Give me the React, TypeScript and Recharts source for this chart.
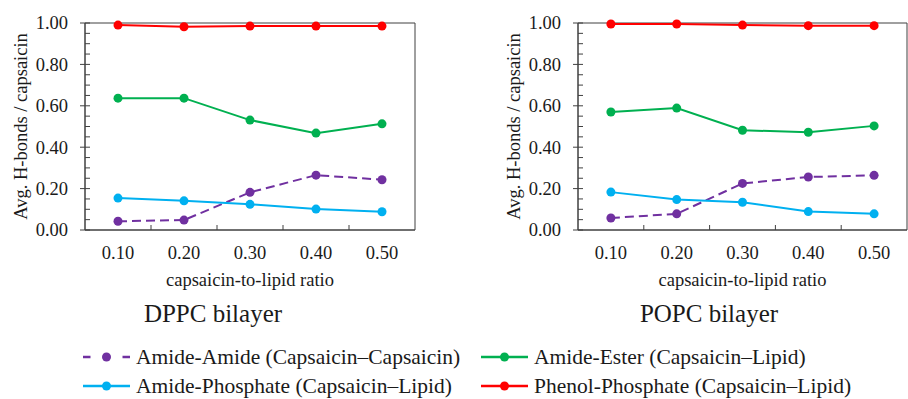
import React from 'react';
import { LineChart, Line, XAxis, YAxis, ReferenceArea } from 'recharts';

const RATIOS = [0.1, 0.2, 0.3, 0.4, 0.5];

const DPPC_AMIDE_AMIDE = [0.042, 0.048, 0.182, 0.265, 0.243];
const DPPC_AMIDE_ESTER = [0.637, 0.637, 0.531, 0.468, 0.513];
const DPPC_AMIDE_PHOSPHATE = [0.154, 0.141, 0.124, 0.101, 0.088];
const DPPC_PHENOL_PHOSPHATE = [0.99, 0.982, 0.985, 0.985, 0.985];

const POPC_AMIDE_AMIDE = [0.058, 0.078, 0.225, 0.256, 0.264];
const POPC_AMIDE_ESTER = [0.57, 0.589, 0.482, 0.472, 0.503];
const POPC_AMIDE_PHOSPHATE = [0.183, 0.147, 0.134, 0.089, 0.078];
const POPC_PHENOL_PHOSPHATE = [0.995, 0.995, 0.99, 0.987, 0.987];

const X_TICKS = [0.1, 0.15, 0.2, 0.25, 0.3, 0.35, 0.4, 0.45, 0.5];
const Y_TICKS = [0, 0.05, 0.1, 0.15, 0.2, 0.25, 0.3, 0.35, 0.4, 0.45, 0.5, 0.55, 0.6, 0.65, 0.7, 0.75, 0.8, 0.85, 0.9, 0.95, 1];

const SERIES = [
    { key: 'amideAmide', name: 'Amide-Amide (Capsaicin–Capsaicin)', color: '#7030A0', dashed: true },
    { key: 'amideEster', name: 'Amide-Ester (Capsaicin–Lipid)', color: '#00B050', dashed: false },
    { key: 'amidePhosphate', name: 'Amide-Phosphate (Capsaicin–Lipid)', color: '#00B0F0', dashed: false },
    { key: 'phenolPhosphate', name: 'Phenol-Phosphate (Capsaicin–Lipid)', color: '#FF0000', dashed: false },
];

const FONT = '"Liberation Serif", "Times New Roman", serif';
const AXIS = '#404040';
const TEXT = '#1a1a1a';

function buildRows(aa: number[], ae: number[], ap: number[], pp: number[]) {
    return RATIOS.map((r, i) => ({
        ratio: r,
        amideAmide: aa[i],
        amideEster: ae[i],
        amidePhosphate: ap[i],
        phenolPhosphate: pp[i],
    }));
}

const dppcData = buildRows(DPPC_AMIDE_AMIDE, DPPC_AMIDE_ESTER, DPPC_AMIDE_PHOSPHATE, DPPC_PHENOL_PHOSPHATE);
const popcData = buildRows(POPC_AMIDE_AMIDE, POPC_AMIDE_ESTER, POPC_AMIDE_PHOSPHATE, POPC_PHENOL_PHOSPHATE);

const YTick = (props: any) => {
    const { x, y, payload } = props;
    const v = payload.value;
    const major = Math.round(v * 100) % 20 === 0;
    return (
        <g>
            <line x1={major ? x - 5 : x} x2={x + 5} y1={y} y2={y} stroke={AXIS} strokeWidth={1} />
            {major && (
                <text x={x - 17} y={y} dy="0.35em" textAnchor="end" fontSize={18.5} fontFamily={FONT} fill={TEXT}>
                    {v.toFixed(2)}
                </text>
            )}
        </g>
    );
};

const XTick = (props: any) => {
    const { x, y, payload } = props;
    const v = payload.value;
    const major = Math.round(v * 100) % 10 === 0;
    if (!major) {
        return <line x1={x} x2={x} y1={y} y2={y - 5} stroke={AXIS} strokeWidth={1} />;
    }
    return (
        <text x={x} y={y + 29} textAnchor="middle" fontSize={18.5} fontFamily={FONT} fill={TEXT}>
            {v.toFixed(2)}
        </text>
    );
};

const xLabel = (props: any) => {
    const vb = props.viewBox;
    return (
        <text x={vb.x + vb.width / 2} y={vb.y + 56} textAnchor="middle" fontSize={18.5} fontFamily={FONT} fill={TEXT}>
            capsaicin-to-lipid ratio
        </text>
    );
};

const yLabel = (props: any) => {
    const vb = props.viewBox;
    const cx = vb.x + 21;
    const cy = vb.y + vb.height / 2;
    return (
        <text x={cx} y={cy} transform={`rotate(-90, ${cx}, ${cy})`} textAnchor="middle" dominantBaseline="central" fontSize={18.5} fontFamily={FONT} fill={TEXT}>
            Avg. H-bonds / capsaicin
        </text>
    );
};

function Panel({ data, right }: { data: any[]; right: number }) {
    return (
        <LineChart width={430} height={300} data={data} margin={{ top: 23, right, bottom: 0, left: 0 }}>
            <XAxis
                dataKey="ratio"
                type="number"
                domain={[0.05, 0.55]}
                ticks={X_TICKS}
                interval={0}
                tickSize={0}
                tickMargin={0}
                tickLine={false}
                tick={<XTick />}
                height={70}
                axisLine={{ stroke: AXIS }}
                label={xLabel}
            />
            <YAxis
                type="number"
                domain={[0, 1]}
                ticks={Y_TICKS}
                interval={0}
                tickSize={0}
                tickMargin={0}
                tickLine={false}
                tick={<YTick />}
                width={85}
                axisLine={{ stroke: AXIS }}
                label={yLabel}
            />
            <ReferenceArea x1={0.05} x2={0.55} y1={0} y2={1} fill="none" stroke={AXIS} strokeWidth={1} />
            {SERIES.map((s) => (
                <Line
                    key={s.key}
                    dataKey={s.key}
                    name={s.name}
                    type="linear"
                    stroke={s.color}
                    strokeWidth={2}
                    strokeDasharray={s.dashed ? '9 5' : undefined}
                    dot={{ r: 4.5, fill: s.color, stroke: s.color, strokeWidth: 0 }}
                    activeDot={false}
                    isAnimationActive={false}
                />
            ))}
        </LineChart>
    );
}

function LegendIcon({ color, dashed }: { color: string; dashed: boolean }) {
    return (
        <svg width={47} height={12} style={{ display: 'block' }}>
            <line x1={0} x2={47} y1={6} y2={6} stroke={color} strokeWidth={2.5} strokeDasharray={dashed ? '7.5 32' : undefined} />
            <circle cx={23.5} cy={6} r={4.5} fill={color} />
        </svg>
    );
}

const LEGEND_POS = [
    { left: 83, top: 345 },
    { left: 481, top: 345 },
    { left: 83, top: 374 },
    { left: 481, top: 374 },
];

export default function App() {
    return (
        <div style={{ position: 'absolute', left: 0, top: 0, width: 908, height: 399, overflow: 'hidden', background: '#fff', fontFamily: FONT }}>
            <div style={{ position: 'absolute', left: 0, top: 0 }}>
                <Panel data={dppcData} right={15} />
            </div>
            <div style={{ position: 'absolute', left: 493, top: 0 }}>
                <Panel data={popcData} right={16} />
            </div>
            <div style={{ position: 'absolute', left: 113, top: 301, width: 200, textAlign: 'center', fontSize: 25, lineHeight: '25px', color: TEXT }}>
                DPPC bilayer
            </div>
            <div style={{ position: 'absolute', left: 609, top: 301, width: 200, textAlign: 'center', fontSize: 25, lineHeight: '25px', color: TEXT }}>
                POPC bilayer
            </div>
            {SERIES.map((s, i) => (
                <div key={s.key} style={{ position: 'absolute', left: LEGEND_POS[i].left, top: LEGEND_POS[i].top, height: 24, display: 'flex', alignItems: 'center', whiteSpace: 'nowrap' }}>
                    <LegendIcon color={s.color} dashed={s.dashed} />
                    <span style={{ marginLeft: 6, fontSize: 21.5, lineHeight: '24px', color: TEXT }}>{s.name}</span>
                </div>
            ))}
        </div>
    );
}
